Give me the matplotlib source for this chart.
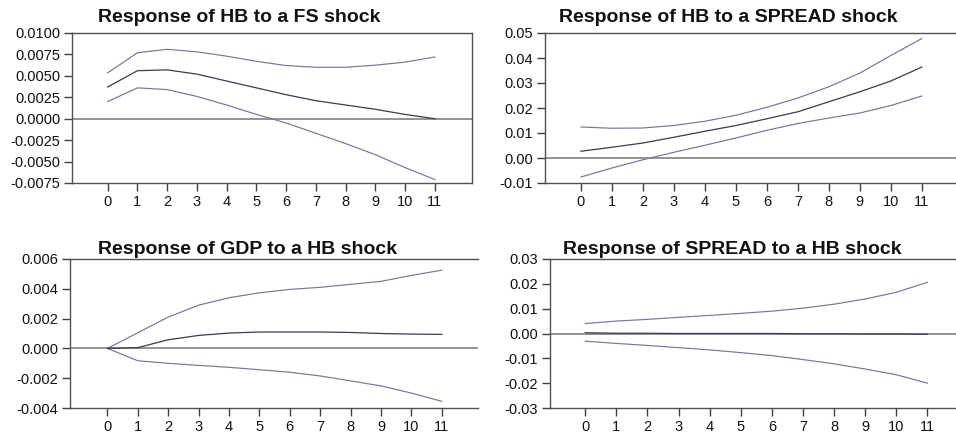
import numpy as np
import matplotlib
matplotlib.use('Agg')
import matplotlib.pyplot as plt

plt.rcParams['font.family'] = ['Liberation Sans', 'DejaVu Sans']

# periodos
h = np.arange(12)

# Response of HB to a FS shock
fs_up = [0.00535, 0.0077, 0.0081, 0.0078, 0.0073, 0.0067, 0.0062, 0.0060, 0.0060, 0.00625, 0.0066, 0.0072]
fs_mid = [0.0037, 0.0056, 0.0057, 0.0052, 0.0044, 0.0036, 0.0028, 0.0021, 0.0016, 0.0011, 0.0005, 0.0000]
fs_lo = [0.0020, 0.0036, 0.0034, 0.0026, 0.0016, 0.0005, -0.0005, -0.0017, -0.0029, -0.0042, -0.0057, -0.0071]

# Response of HB to a SPREAD shock
sp_up = [0.0124, 0.0119, 0.0120, 0.0130, 0.0147, 0.0171, 0.0203, 0.0240, 0.0285, 0.0340, 0.0410, 0.0478]
sp_mid = [0.0027, 0.0043, 0.0060, 0.0083, 0.0107, 0.0130, 0.0157, 0.0185, 0.0225, 0.0265, 0.0308, 0.0364]
sp_lo = [-0.0076, -0.0040, -0.0007, 0.0023, 0.0051, 0.0080, 0.0111, 0.0138, 0.0160, 0.0180, 0.0210, 0.0248]

# Response of GDP to a HB shock
gdp_up = [0.0, 0.00105, 0.0021, 0.0029, 0.0034, 0.00373, 0.00396, 0.0041, 0.0043, 0.0045, 0.0049, 0.00525]
gdp_mid = [0.0, 0.00005, 0.00058, 0.00087, 0.00103, 0.0011, 0.0011, 0.0011, 0.00107, 0.0010, 0.00096, 0.00094]
gdp_lo = [0.0, -0.00083, -0.0010, -0.00114, -0.00127, -0.00143, -0.0016, -0.00185, -0.00218, -0.00252, -0.0030, -0.00355]

# Response of SPREAD to a HB shock
spr_up = [0.0040, 0.0050, 0.0057, 0.0065, 0.0073, 0.0081, 0.0090, 0.0102, 0.0118, 0.0139, 0.0166, 0.0206]
spr_mid = [0.0003, 0.0001, 0.0001, 0.0000, 0.0000, 0.0000, 0.0000, -0.0001, -0.0001, -0.0002, -0.0002, -0.0003]
spr_lo = [-0.0031, -0.0040, -0.0048, -0.0057, -0.0066, -0.0077, -0.0089, -0.0105, -0.0122, -0.0143, -0.0166, -0.0200]

W, H = 956, 434
fig = plt.figure(figsize=(W / 100, H / 100), dpi=100)

def panel(l, r, t, b):
    return fig.add_axes([l / W, (H - b) / H, (r - l) / W, (b - t) / H])

paneles = [
    dict(box=(72, 472, 33, 183), xl=(-1.2, 12.25), right=True, tit='Response of HB to a FS shock', tx=239, ty=17,
         d=(fs_up, fs_mid, fs_lo), yt=np.arange(-0.0075, 0.01001, 0.0025), fmt='%.4f'),
    dict(box=(545, 960, 33, 183), xl=(-1.16, 12.23), right=False, tit='Response of HB to a SPREAD shock', tx=728, ty=17,
         d=(sp_up, sp_mid, sp_lo), yt=np.arange(-0.01, 0.0501, 0.01), fmt='%.2f'),
    dict(box=(70, 478, 259, 408), xl=(-1.23, 12.19), right=False, tit='Response of GDP to a HB shock', tx=247, ty=249,
         d=(gdp_up, gdp_mid, gdp_lo), yt=np.arange(-0.004, 0.00601, 0.002), fmt='%.3f'),
    dict(box=(550, 960, 259, 408), xl=(-1.135, 12.05), right=False, tit='Response of SPREAD to a HB shock', tx=732, ty=249,
         d=(spr_up, spr_mid, spr_lo), yt=np.arange(-0.03, 0.0301, 0.01), fmt='%.2f'),
]

for p in paneles:
    ax = panel(*p['box'])
    up, mid, lo = p['d']
    ax.axhline(0, color='#8a8a8a', lw=1.3, zorder=1)
    ax.plot(h, up, color='#7474a0', lw=0.85, zorder=2)
    ax.plot(h, lo, color='#7474a0', lw=0.85, zorder=2)
    ax.plot(h, mid, color='#3a3a50', lw=0.9, zorder=3)
    ax.set_xlim(*p['xl'])
    ax.set_ylim(p['yt'][0], p['yt'][-1])
    ax.set_xticks(h)
    ax.set_yticks(p['yt'])
    ax.set_yticklabels([p['fmt'] % v if abs(v) > 1e-9 else p['fmt'] % 0 for v in p['yt']])
    ax.tick_params(labelsize=10.5, length=6, width=1, color='#404040', labelcolor='#111111', pad=2.5)
    for s in ax.spines.values():
        s.set_color('#505050')
        s.set_linewidth(1.0)
    ax.spines['right'].set_visible(p['right'])
    fig.text(p['tx'] / W, 1 - p['ty'] / H, p['tit'], ha='center', va='center',
             fontsize=14, fontweight='bold', color='#111111')

fig.savefig('out.png', dpi=100)
